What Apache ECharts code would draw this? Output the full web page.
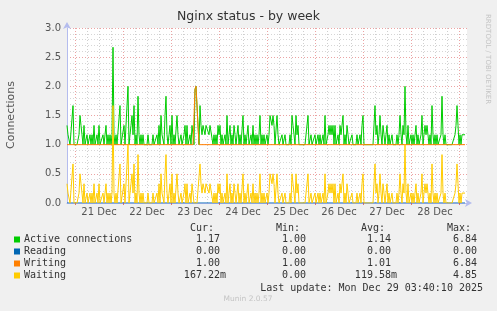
<!DOCTYPE html>
<html><head><meta charset="utf-8">
<script src="https://cdn.jsdelivr.net/npm/echarts@6/dist/echarts.min.js"></script>
<style>html,body{margin:0;padding:0;background:#f0f0f0;}#c{width:497px;height:311px;}</style>
</head><body><div id="c"></div>
<script>
// ---- data (one value per 30-minute slot, starting 20 Dec 20:00) ----
const seriesNames = ['Active connections', 'Reading', 'Writing', 'Waiting'];
const seriesColors = ['#00cc00', '#0066b3', '#ff8000', '#ffcc00'];
const dayLabels = ['21 Dec', '22 Dec', '23 Dec', '24 Dec', '25 Dec', '26 Dec', '27 Dec', '28 Dec'];
const yTickLabels = ['0.0', '0.5', '1.0', '1.5', '2.0', '2.5', '3.0'];

const active = [
1.33,1.17,1.17,1,1,1,1.67,1,1,1,1,1,1.17,1.5,1.33,1.17,1,1.33,1,1,
1.17,1,1,1.17,1,1.17,1,1.33,1,1,1.17,1,1.33,1,1,1,1.17,1,1.17,1.33,
1,1.17,1,1.17,1,1.17,2.67,1.17,1,1.17,1,1,1,1.67,1,1,1,1.33,1,1,
1,2,1,1.17,1.33,1.5,1.17,1.67,1,1.17,1,1.83,1.17,1,1.17,1,1.17,1,1,1,
1,1.17,1,1,1,1,1.17,1,1,1,1.17,1,1.33,1,1.5,1.17,1.17,1,1.5,1.83,
1.17,1,1.17,1.33,1,1.5,1,1.17,1,1,1.5,1.17,1,1,1.17,1,1,1.17,1.33,1,
1.33,1,1,1.17,1,1.33,1.17,1,1.95,2,2,2.03,1,1.67,1.33,1.17,1.33,1.33,1.17,1.33,
1.33,1.33,1.17,1.33,1.33,1.33,1,1.17,1,1.17,1,1.33,1.17,1.33,1,1.17,1,1,1.17,1,
1.5,1,1.17,1.33,1,1.17,1,1.33,1.17,1,1.17,1.33,1,1.17,1,1,1.5,1,1.17,1,
1.17,1.33,1,1,1.17,1,1.33,1,1.17,1,1.17,1,1.17,1.5,1,1.17,1,1.17,1,1,
1.17,1,1.17,1.5,1.5,1.33,1.5,1.33,1,1,1.5,1.17,1,1,1,1.17,1,1,1.17,1,
1,1,1,1.17,1,1.5,1.33,1.17,1,1.5,1.17,1.33,1,1,1,1,1,1,1,1,
1,1.5,1,1,1.17,1,1,1,1.17,1,1,1.17,1,1.17,1,1,1.17,1,1.5,1,
1,1.17,1.33,1.17,1.33,1.17,1.33,1,1.33,1,1,1.17,1,1.33,1.17,1.33,1.5,1,1.17,1,
1.33,1.17,1,1,1,1.17,1,1,1,1,1.17,1,1,1.17,1,1.33,1.5,1,1,1,
1,1,1,1,1,1,1,1,1.67,1.17,1.33,1,1.17,1.5,1.17,1,1.33,1.17,1,1.17,
1.33,1,1.17,1,1,1.17,1,1,1,1,1.17,1,1.17,1.5,1.17,1,1.33,1.17,2,1.17,
1,1.33,1,1,1.17,1,1.17,1,1.17,1.33,1,1.17,1,1,1.17,1.5,1,1.17,1.33,1.17,
1.33,1.33,1,1.17,1,1.67,1.17,1,1.17,1,1.17,1,1,1,1.17,1.83,1.17,1,1.17,1,
1,1,1,1,1,1,1,1,1.17,1.33,1.67,1.33,1,1.17,1,1.17,1.17,1.17,1.17
];
const reading = [
0,0,0,0,0,0,0,0,0,0,0,0,0,0,0,0,0,0,0,0, 0,0,0,0,0,0,0,0,0,0,0,0,0,0,0,0,0,0,0,0,
0,0,0,0,0,0,0,0,0,0,0,0,0,0,0,0,0,0,0,0, 0,0,0,0,0,0,0,0,0,0,0,0,0,0,0,0,0,0,0,0,
0,0,0,0,0,0,0,0,0,0,0,0,0,0,0,0,0,0,0,0, 0,0,0,0,0,0,0,0,0,0,0,0,0,0,0,0,0,0,0,0,
0,0,0,0,0,0,0,0,0,0,0,0,0,0,0,0,0,0,0,0, 0,0,0,0,0,0,0,0,0,0,0,0,0,0,0,0,0,0,0,0,
0,0,0,0,0,0,0,0,0,0,0,0,0,0,0,0,0,0,0,0, 0,0,0,0,0,0,0,0,0,0,0,0,0,0,0,0,0,0,0,0,
0,0,0,0,0,0,0,0,0,0,0,0,0,0,0,0,0,0,0,0, 0,0,0,0,0,0,0,0,0,0,0,0,0,0,0,0,0,0,0,0,
0,0,0,0,0,0,0,0,0,0,0,0,0,0,0,0,0,0,0,0, 0,0,0,0,0,0,0,0,0,0,0,0,0,0,0,0,0,0,0,0,
0,0,0,0,0,0,0,0,0,0,0,0,0,0,0,0,0,0,0,0, 0,0,0,0,0,0,0,0,0,0,0,0,0,0,0,0,0,0,0,0,
0,0,0,0,0,0,0,0,0,0,0,0,0,0,0,0,0,0,0,0, 0,0,0,0,0,0,0,0,0,0,0,0,0,0,0,0,0,0,0,0,
0,0,0,0,0,0,0,0,0,0,0,0,0,0,0,0,0,0,0,0, 0,0,0,0,0,0,0,0,0,0,0,0,0,0,0,0,0,0,0
];
const writing = [
1,1,1,1,1,1,1,1,1,1,1,1,1,1,1,1,1,1,1,1, 1,1,1,1,1,1,1,1,1,1,1,1,1,1,1,1,1,1,1,1,
1,1,1,1,1,1,1,1,1,1,1,1,1,1,1,1,1,1,1,1, 1,1,1,1,1,1,1,1,1,1,1,1,1,1,1,1,1,1,1,1,
1,1,1,1,1,1,1,1,1,1,1,1,1,1,1,1,1,1,1,1, 1,1,1,1,1,1,1,1,1,1,1,1,1,1,1,1,1,1,1,1,
1,1,1,1,1,1,1,1,1.95,2,2,2.03,1,1,1,1,1,1,1,1, 1,1,1,1,1,1,1,1,1,1,1,1,1,1,1,1,1,1,1,1,
1,1,1,1,1,1,1,1,1,1,1,1,1,1,1,1,1,1,1,1, 1,1,1,1,1,1,1,1,1,1,1,1,1,1,1,1,1,1,1,1,
1,1,1,1,1,1,1,1,1,1,1,1,1,1,1,1,1,1,1,1, 1,1,1,1,1,1,1,1,1,1,1,1,1,1,1,1,1,1,1,1,
1,1,1,1,1,1,1,1,1,1,1,1,1,1,1,1,1,1,1,1, 1,1,1,1,1,1,1,1,1,1,1,1,1,1,1,1,1,1,1,1,
1,1,1,1,1,1,1,1,1,1,1,1,1,1,1,1,1,1,1,1, 1,1,1,1,1,1,1,1,1,1,1,1,1,1,1,1,1,1,1,1,
1,1,1,1,1,1,1,1,1,1,1,1,1,1,1,1,1,1,1,1, 1,1,1,1,1,1,1,1,1,1,1,1,1,1,1,1,1,1,1,1,
1,1,1,1,1,1,1,1,1,1,1,1,1,1,1,1,1,1,1,1, 1,1,1,1,1,1,1,1,1,1,1,1,1,1,1,1,1,1,1
];
const waiting = [
.33,.17,.17,0,0,0,.67,0,0,0,0,0,.17,.5,.33,.17,0,.33,0,0,
.17,0,0,.17,0,.17,0,.33,0,0,.17,0,.33,0,0,0,.17,0,.17,.33,
0,.17,0,.17,0,.17,1.67,.17,0,.17,0,0,0,.67,0,0,0,.33,0,0,
0,1,0,.17,.33,.5,.17,.67,0,.17,0,.83,.17,0,.17,0,.17,0,0,0,
0,.17,0,0,0,0,.17,0,0,0,.17,0,.33,0,.5,.17,.17,0,.5,.83,
.17,0,.17,.33,0,.5,0,.17,0,0,.5,.17,0,0,.17,0,0,.17,.33,0,
.33,0,0,.17,0,.33,.17,0,0,0,0,0,0,.67,.33,.17,.33,.33,.17,.33,
.33,.33,.17,.33,.33,.33,0,.17,0,.17,0,.33,.17,.33,0,.17,0,0,.17,0,
.5,0,.17,.33,0,.17,0,.33,.17,0,.17,.33,0,.17,0,0,.5,0,.17,0,
.17,.33,0,0,.17,0,.33,0,.17,0,.17,0,.17,.5,0,.17,0,.17,0,0,
.17,0,.17,.5,.5,.33,.5,.33,0,0,.5,.17,0,0,0,.17,0,0,.17,0,
0,0,0,.17,0,.5,.33,.17,0,.5,.17,.33,0,0,0,0,0,0,0,0,
0,.5,0,0,.17,0,0,0,.17,0,0,.17,0,.17,0,0,.17,0,.5,0,
0,.17,.33,.17,.33,.17,.33,0,.33,0,0,.17,0,.33,.17,.33,.5,0,.17,0,
.33,.17,0,0,0,.17,0,0,0,0,.17,0,0,.17,0,.33,.5,0,0,0,
0,0,0,0,0,0,0,0,.67,.17,.33,0,.17,.5,.17,0,.33,.17,0,.17,
.33,0,.17,0,0,.17,0,0,0,0,.17,0,.17,.5,.17,0,.33,.17,1,.17,
0,.33,0,0,.17,0,.17,0,.17,.33,0,.17,0,0,.17,.5,0,.17,.33,.17,
.33,.33,0,.17,0,.67,.17,0,.17,0,.17,0,0,0,.17,.83,.17,0,.17,0,
0,0,0,0,0,0,0,0,.17,.33,.67,.33,0,.17,0,.17,.17,.17,.17
];
const statHeaders = ['Cur:', 'Min:', 'Avg:', 'Max:'];
const statCur = ['1.17', '0.00', '1.00', '167.22m'];
const statMin = ['1.00', '0.00', '1.00', '0.00'];
const statAvg = ['1.14', '0.00', '1.01', '119.58m'];
const statMax = ['6.84', '0.00', '6.84', '4.85'];
const lastUpdate = 'Last update: Mon Dec 29 03:40:10 2025';
const footer = 'Munin 2.0.57';
const sideText = 'RRDTOOL / TOBI OETIKER';

// ---- axis slots: 401 half-hour slots from 20 Dec 20:00 to 29 Dec 04:00 ----
const slots = [];
const t0 = Date.UTC(2025, 11, 20, 20, 0);
for (let i = 0; i <= 400; i++) {
  const d = new Date(t0 + i * 1800000);
  slots.push(d.getUTCDate() + ' ' + String(d.getUTCHours()).padStart(2, '0') + ':' + String(d.getUTCMinutes()).padStart(2, '0'));
}
const slotH = i => { const s = slots[i].split(' ')[1]; return s; };
const isMinor = i => /^(00|06|12|18):00$/.test(slotH(i));
const isMajor = i => slotH(i) === '00:00';
const isNoon = i => slotH(i) === '12:00';
let noonCount = 0;
const noonIndex = {};
for (let i = 0; i <= 400; i++) if (isNoon(i)) noonIndex[i] = noonCount++;

const MONO = '"DejaVu Sans Mono", monospace';
const SANS = '"DejaVu Sans", sans-serif';
const axisColor = '#b4bcee';

const colRight = [220, 306, 391, 477];
const rowY = [239.5, 251.5, 263.5, 275.5];
const graphics = [];
statHeaders.forEach((h, c) => graphics.push({type: 'text', silent: true, style: {text: h, x: colRight[c] - 6, y: 228, align: 'right', verticalAlign: 'middle', font: '10px ' + MONO, fill: '#333'}}));
[statCur, statMin, statAvg, statMax].forEach((col, c) => {
  col.forEach((v, r) => {
    const suffix = /[a-zA-Z]$/.test(v);
    graphics.push({type: 'text', silent: true, style: {text: v, x: colRight[c] + (suffix ? 6 : 0), y: rowY[r], align: 'right', verticalAlign: 'middle', font: '10px ' + MONO, fill: '#333'}});
  });
});
graphics.push({type: 'text', silent: true, style: {text: lastUpdate, x: 483, y: 288, align: 'right', verticalAlign: 'middle', font: '10px ' + MONO, fill: '#333'}});
graphics.push({type: 'text', silent: true, style: {text: footer, x: 248, y: 299.5, align: 'center', verticalAlign: 'middle', font: '7.5px ' + SANS, fill: '#c4c4c4'}});
graphics.push({type: 'text', silent: true, x: 488, y: 14, rotation: -Math.PI / 2, style: {text: sideText, x: 0, y: 0, align: 'left', verticalAlign: 'middle', font: '7px ' + SANS, fill: '#c4c4c4'}});
graphics.push({type: 'text', silent: true, x: 11, y: 115, rotation: Math.PI / 2, style: {text: 'Connections', x: 0, y: 0, align: 'center', verticalAlign: 'middle', font: '11px ' + SANS, fill: '#555'}});

const chart = echarts.init(document.getElementById('c'), null, {renderer: 'canvas'});
chart.setOption({
  backgroundColor: '#f0f0f0',
  animation: false,
  color: seriesColors,
  title: {text: 'Nginx status - by week', left: 'center', top: 10, padding: 0,
    textStyle: {fontSize: 12.5, fontWeight: 'normal', color: '#333', fontFamily: SANS}},
  legend: {
    data: seriesNames, orient: 'vertical', left: 14, top: 233.5, padding: 0,
    itemWidth: 6, itemHeight: 6, itemGap: 0, icon: 'rect',
    textStyle: {fontFamily: MONO, fontSize: 10, color: '#333', lineHeight: 12, padding: [0, 0, 0, -1]}
  },
  grid: {left: 67, top: 28, width: 400, height: 175, show: true, backgroundColor: '#ffffff', borderWidth: 0, containLabel: false},
  xAxis: [
    {
      type: 'category', data: slots, boundaryGap: false, position: 'bottom',
      axisLine: {show: true, lineStyle: {color: axisColor, width: 1}, symbol: ['none', 'arrow'], symbolSize: [6, 7], symbolOffset: [0, 5]},
      axisTick: {show: true, interval: (i) => isMajor(i), length: 2, lineStyle: {color: '#e07070'}},
      axisLabel: {show: true, interval: (i) => isNoon(i), formatter: (v, i) => dayLabels[noonIndex[i]] || '',
        color: '#555', fontSize: 10, fontFamily: SANS, margin: 4},
      splitLine: {show: true, interval: (i) => isMinor(i) && !isMajor(i), lineStyle: {color: '#cfcfcf', type: [1, 2], width: 1}},
      z: 2
    },
    {
      type: 'category', data: slots, boundaryGap: false, position: 'bottom',
      axisLine: {show: false}, axisTick: {show: false}, axisLabel: {show: false},
      splitLine: {show: true, interval: (i) => isMajor(i), lineStyle: {color: '#eba3a3', type: [1, 2], width: 1}}
    }
  ],
  yAxis: {
    type: 'value', min: 0, max: 3, interval: 0.5,
    axisLine: {show: true, lineStyle: {color: axisColor, width: 1}, symbol: ['none', 'arrow'], symbolSize: [6, 7], symbolOffset: [0, 6]},
    axisTick: {show: false},
    axisLabel: {formatter: (v) => yTickLabels[Math.round(v * 2)], color: '#555', fontSize: 10, fontFamily: SANS, margin: 6},
    splitLine: {show: true, lineStyle: {color: '#eba3a3', type: [1, 2], width: 1}},
    minorTick: {show: false, splitNumber: 5},
    minorSplitLine: {show: true, lineStyle: {color: '#d6d6d6', type: [1, 2], width: 1}}
  },
  series: [
    {name: seriesNames[0], type: 'line', data: active, showSymbol: false, symbol: 'none', lineStyle: {width: 1, color: seriesColors[0]}, itemStyle: {color: seriesColors[0]}, z: 3},
    {name: seriesNames[1], type: 'line', data: reading, showSymbol: false, symbol: 'none', lineStyle: {width: 1, color: seriesColors[1]}, itemStyle: {color: seriesColors[1]}, z: 3},
    {name: seriesNames[2], type: 'line', data: writing, showSymbol: false, symbol: 'none', lineStyle: {width: 1, color: seriesColors[2]}, itemStyle: {color: seriesColors[2]}, z: 3},
    {name: seriesNames[3], type: 'line', data: waiting, showSymbol: false, symbol: 'none', lineStyle: {width: 1, color: seriesColors[3]}, itemStyle: {color: seriesColors[3]}, z: 3}
  ],
  graphic: graphics
});
</script></body></html>
